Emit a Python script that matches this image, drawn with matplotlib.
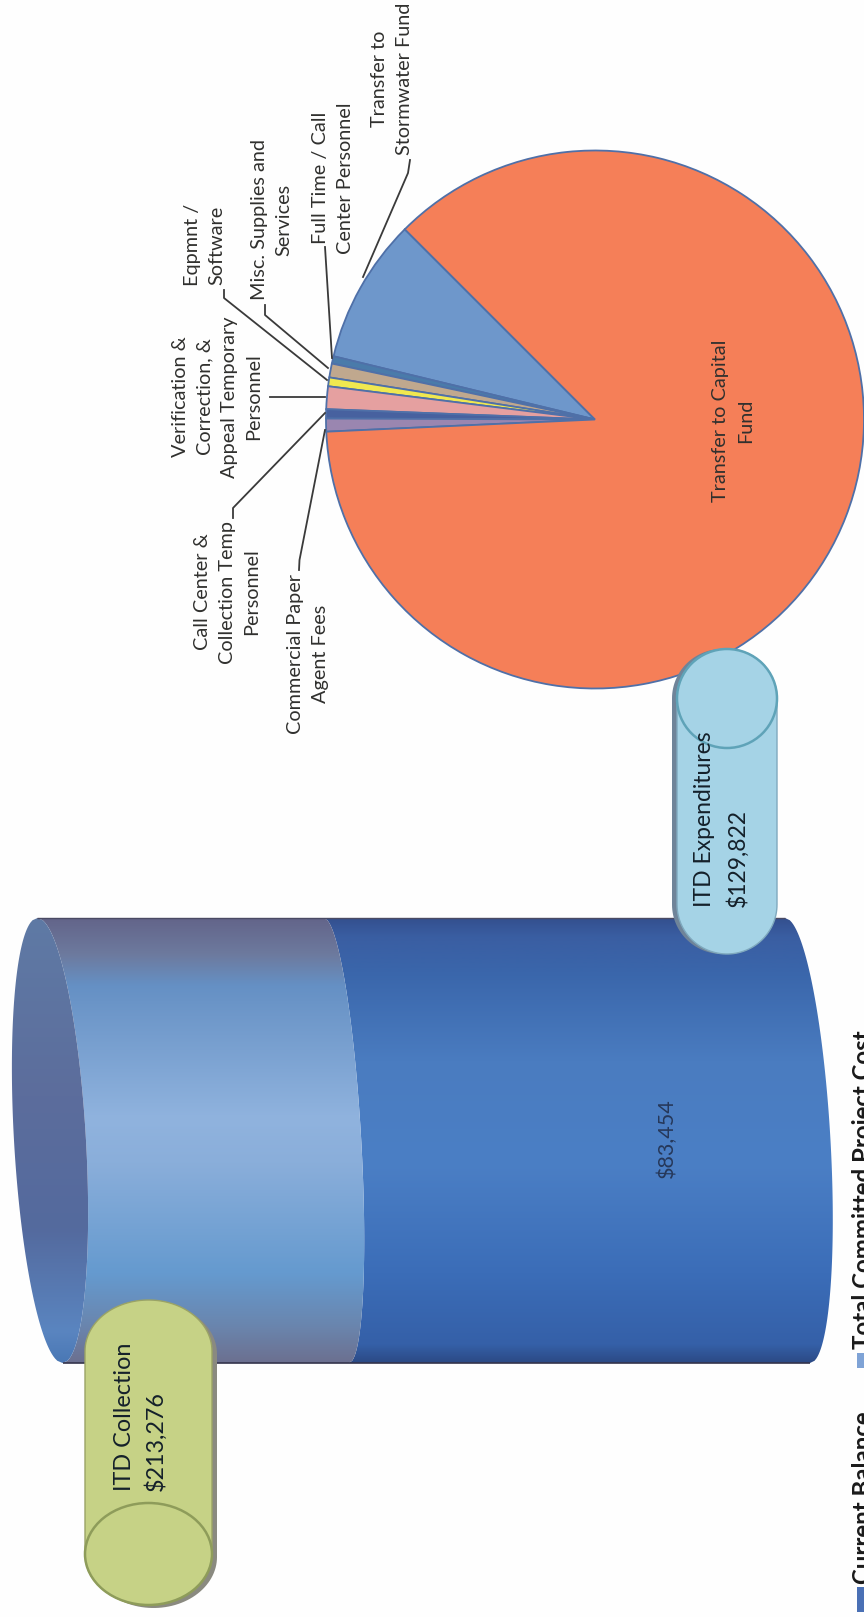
import numpy as np
import matplotlib
matplotlib.use("Agg")
import matplotlib.pyplot as plt
from matplotlib.colors import LinearSegmentedColormap
from matplotlib.patches import Polygon, Rectangle, Ellipse

plt.rcParams["font.family"] = ["Lato", "DejaVu Sans"]

# --- data ---
# order follows the pie going counter clockwise from the blue slice
pie_labels = ["Transfer to\nStormwater Fund", "Full Time / Call\nCenter Personnel", "Misc. Supplies and\nServices",
              "Eqpmnt /\nSoftware", "Verification &\nCorrection, &\nAppeal Temporary\nPersonnel",
              "Call Center &\nCollection Temp\nPersonnel", "Commercial Paper\nAgent Fees",
              "Transfer to Capital\nFund"]
pie_values = [11323, 577, 1082, 685, 1767, 721, 1010, 112660]
pie_colors = ["#6E97CB", "#4A7BAA", "#C0A88E", "#F0E850", "#E5A0A0", "#47619F", "#9A86B0", "#F57F58"]

collection_total = 213276
cyl_dark = 131600   # height of the dark part as drawn
cyl_light = collection_total - cyl_dark
cyl_label = "$83,454"
legend_labels = ["Current Balance", "Total Committed Project Cost"]
legend_colors = ["#4A70B5", "#7FA3D6"]
collection_text = ["ITD Collection", "$213,276"]
expend_text = ["ITD Expenditures", "$129,822"]

# --- layout in pixels ---
W, H = 864, 1617
PIE_CX, PIE_CY, PIE_R = 595, 419.5, 269
CYL_BASE_PX, CYL_TOP_PX = 797.5, 50
CYL_Y0, CYL_Y1 = 918, 1363

fig = plt.figure(figsize=(W / 100, H / 100), dpi=100, facecolor="#FEFEFE")

# cylinder axes: x is dollars, y is page pixels
px_per_usd = (CYL_BASE_PX - CYL_TOP_PX) / collection_total
ax_cyl = fig.add_axes([0, 0, 1, 1], zorder=1)
ax_cyl.set_xlim(CYL_BASE_PX / px_per_usd, (CYL_BASE_PX - W) / px_per_usd)
ax_cyl.set_ylim(H, 0)
ax_cyl.axis("off")

u = np.linspace(-1, 1, 200)
cyl_y = (CYL_Y0 + CYL_Y1) / 2 + u * (CYL_Y1 - CYL_Y0) / 2


def cyl_arc(level, bulge_px):
    # ring of the cylinder at a dollar level, bulge_px > 0 bends to the right of the page
    shear = 12.5 * u
    return level - (shear + bulge_px * np.sqrt(1 - u ** 2)) / px_per_usd


def cyl_band(right_arc, left_arc, stops, zorder):
    xy = np.vstack([np.column_stack([right_arc, cyl_y]),
                    np.column_stack([left_arc[::-1], cyl_y[::-1]])])
    cmap = LinearSegmentedColormap.from_list("band", stops)
    grad = np.linspace(0, 1, 256).reshape(-1, 1)
    im = ax_cyl.imshow(grad, cmap=cmap, aspect="auto", zorder=zorder, interpolation="bilinear",
                       extent=[ax_cyl.get_xlim()[0], ax_cyl.get_xlim()[1], CYL_Y1, CYL_Y0])
    patch = Polygon(xy, closed=True, transform=ax_cyl.transData, fc="none", ec="none")
    ax_cyl.add_patch(patch)
    im.set_clip_path(patch)


dark_stops = [(0, "#34508F"), (0.04, "#3A5EA2"), (0.12, "#3A66AB"), (0.32, "#4A7CC0"), (0.55, "#4B7FC5"),
              (0.8, "#3B6DB8"), (0.96, "#3560A8"), (1, "#2C4A85")]
light_stops = [(0, "#63658A"), (0.08, "#6D7A9E"), (0.15, "#6590C4"), (0.45, "#90B3DE"), (0.55, "#8AAEDA"),
               (0.8, "#659ACF"), (0.92, "#6A85AD"), (1, "#6C7090")]
end_stops = [(0, "#5F7AA5"), (0.4, "#5C6D9C"), (0.7, "#546A9E"), (0.93, "#5A85C0"), (1, "#4A78B5")]

cyl_band(cyl_arc(0, 33), cyl_arc(cyl_dark, 25), dark_stops, 1)
cyl_band(cyl_arc(cyl_dark, 25), cyl_arc(collection_total, 36), light_stops, 2)
cyl_band(cyl_arc(collection_total, 36), cyl_arc(collection_total, -36), end_stops, 3)
ax_cyl.set_xlim(CYL_BASE_PX / px_per_usd, (CYL_BASE_PX - W) / px_per_usd)
ax_cyl.set_ylim(H, 0)

# pie
ax_pie = fig.add_axes([(PIE_CX - PIE_R) / W, 1 - (PIE_CY + PIE_R) / H, 2 * PIE_R / W, 2 * PIE_R / H], zorder=2)
ax_pie.pie(pie_values, colors=pie_colors, startangle=135, counterclock=True, radius=1,
           wedgeprops={"edgecolor": "#4F70A8", "linewidth": 1.3}, normalize=True)
ax_pie.set_xlim(-1, 1)
ax_pie.set_ylim(-1, 1)

# overlay in page pixels for labels, leaders and the two callouts
ax = fig.add_axes([0, 0, 1, 1], zorder=3)
ax.set_xlim(0, W)
ax.set_ylim(H, 0)
ax.axis("off")
ax.patch.set_alpha(0)

# top and bottom edge of the cylinder, under the callouts
ax.plot([37, 785], [CYL_Y0, CYL_Y0], color="#4A4A63", lw=1.0, solid_capstyle="butt", zorder=1)
ax.plot([63, 810], [CYL_Y1, CYL_Y1], color="#34344C", lw=1.2, solid_capstyle="butt", zorder=1)


def capsule_xy(x0, x1, y_top, y_bot, end_h):
    xc, a = (x0 + x1) / 2, (x1 - x0) / 2
    b = end_h / 2
    t = np.linspace(np.pi, 2 * np.pi, 60)
    top = np.column_stack([xc + a * np.cos(t), y_top + b + b * np.sin(t)])
    bot = np.column_stack([xc - a * np.cos(t), y_bot - b - b * np.sin(t)])
    return np.vstack([top, bot])


def callout(x0, x1, y_top, y_bot, end_h, cap_center_y, fill, edge, cap_edge, shadow, dx, dy):
    ax.add_patch(Polygon(capsule_xy(x0, x1, y_top, y_bot, end_h) + [dx, dy], closed=True,
                         fc=shadow, ec="none", zorder=2))
    ax.add_patch(Polygon(capsule_xy(x0, x1, y_top, y_bot, end_h), closed=True,
                         fc=fill, ec=edge, lw=1.0, zorder=3))
    ax.add_patch(Ellipse(((x0 + x1) / 2, cap_center_y), x1 - x0, end_h, fc=fill, ec=cap_edge, lw=1.8, zorder=3))


callout(85, 212, 1300, 1605, 102, 1554, "#C6D286", "#9AA366", "#8E9C5A", "#8A8A80", 5, 3)
callout(677, 777, 649, 954, 99, 698.5, "#A5D3E6", "#7FA9BE", "#5FA3B8", "#6F8499", -5, 0)

for txt, x in zip(collection_text, [131, 163]):
    ax.text(x, 1491, txt, rotation=90, rotation_mode="anchor", ha="left", va="baseline",
            fontsize=16.8, color="#14202A", zorder=5)
for txt, x in zip(expend_text, [711, 745]):
    ax.text(x, 907, txt, rotation=90, rotation_mode="anchor", ha="left", va="baseline",
            fontsize=16.5, color="#14202A", zorder=5)

ax.text(667, 1138, cyl_label, rotation=90, ha="center", va="center", fontsize=15.5, color="#26385A")

# category labels and their leader lines
label_pos = [(392, 79), (333, 178), (272, 220), (205, 245), (217, 397), (227, 592), (308, 654), (733, 421)]
for lab, (x, y) in zip(pie_labels, label_pos):
    ax.text(x, y, lab, rotation=90, ha="center", va="center", ma="center", fontsize=14.3,
            color="#30302E", linespacing=1.52, zorder=5)

leaders = [
    [(410, 160), (408, 173), (363, 277)],
    [(325, 247), (332, 358)],
    [(265, 305), (265, 315), (328, 368)],
    [(224, 290), (224, 298), (327, 380)],
    [(270, 397), (325, 397)],
    [(233, 518), (233, 508), (325, 413)],
    [(299, 570), (299.5, 560), (325, 430)],
]
for pts in leaders:
    xs, ys = zip(*pts)
    ax.plot(xs, ys, color="#3A3A3A", lw=1.3, zorder=4)

# legend, cut off by the page edge like in the scan
for lab, col, y_sq, h_sq, y_txt in zip(legend_labels, legend_colors, [1587, 1353], [25, 15], [1584, 1349]):
    ax.add_patch(Rectangle((857, y_sq), 7, h_sq, fc=col, ec="none"))
    ax.text(871, y_txt, lab, rotation=90, rotation_mode="anchor", ha="left", va="baseline",
            fontsize=17.3, fontweight="bold", color="#1A1A1A", clip_on=True)

fig.savefig("out.png", dpi=100, facecolor=fig.get_facecolor())
